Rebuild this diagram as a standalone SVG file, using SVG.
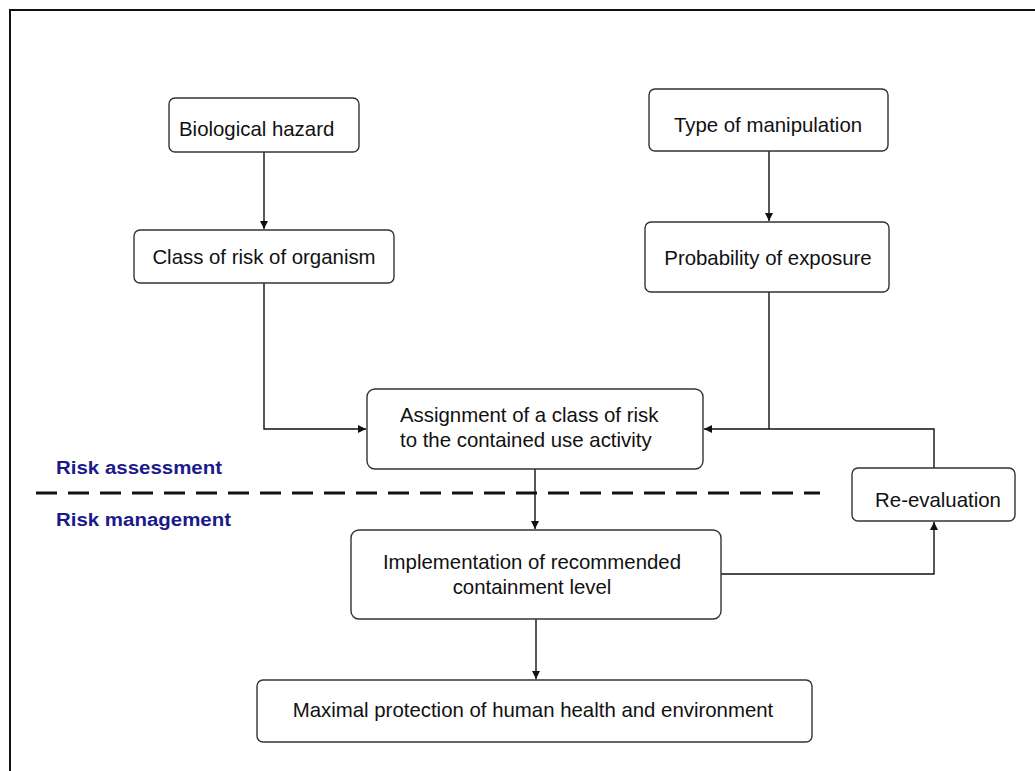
<svg xmlns="http://www.w3.org/2000/svg" width="1035" height="771" viewBox="0 0 1035 771">
<style>
.box{fill:#fff;stroke:#333;stroke-width:1.4}
.t{font-family:"Liberation Sans",Arial,sans-serif;font-size:20.4px;fill:#111}
.lbl{font-family:"Liberation Sans",Arial,sans-serif;font-size:18px;font-weight:bold;fill:#1a1a8c}
.c{fill:none;stroke:#111;stroke-width:1.4}
</style>
<defs>
<marker id="ah" markerWidth="10" markerHeight="10" refX="8" refY="4" orient="auto" markerUnits="userSpaceOnUse">
<path d="M0,0 L8,4 L0,8 Z" fill="#111"/>
</marker>
</defs>
<rect x="0" y="0" width="1035" height="771" fill="#fff"/>
<g id="frame">
<path d="M10,771 V10 H1035" fill="none" stroke="#111" stroke-width="2"/>
</g>
<g id="divider">
<line x1="36" y1="493" x2="820" y2="493" stroke="#111" stroke-width="3" stroke-dasharray="21 11"/>
<text class="lbl" x="56" y="474" textLength="166" lengthAdjust="spacingAndGlyphs">Risk assessment</text>
<text class="lbl" x="56" y="526" textLength="175" lengthAdjust="spacingAndGlyphs">Risk management</text>
</g>
<g id="connectors">
<line class="c" x1="264" y1="152" x2="264" y2="229" marker-end="url(#ah)"/>
<line class="c" x1="769" y1="151" x2="769" y2="221" marker-end="url(#ah)"/>
<polyline class="c" points="264,283 264,429 366,429" marker-end="url(#ah)"/>
<line class="c" x1="769" y1="292" x2="769" y2="429"/>
<polyline class="c" points="934,468 934,429 704,429" marker-end="url(#ah)"/>
<line class="c" x1="535" y1="469" x2="535" y2="529" marker-end="url(#ah)"/>
<polyline class="c" points="721,574 934,574 934,522" marker-end="url(#ah)"/>
<line class="c" x1="536" y1="619" x2="536" y2="679" marker-end="url(#ah)"/>
</g>
<g id="n-bio">
<rect class="box" x="169" y="98" width="190" height="54" rx="6"/>
<text class="t" x="179" y="136">Biological hazard</text>
</g>
<g id="n-class">
<rect class="box" x="134" y="230" width="260" height="53" rx="6"/>
<text class="t" x="264" y="264" text-anchor="middle">Class of risk of organism</text>
</g>
<g id="n-type">
<rect class="box" x="649" y="89" width="239" height="62" rx="6"/>
<text class="t" x="768" y="132" text-anchor="middle">Type of manipulation</text>
</g>
<g id="n-prob">
<rect class="box" x="645" y="222" width="244" height="70" rx="6"/>
<text class="t" x="768" y="265" text-anchor="middle">Probability of exposure</text>
</g>
<g id="n-assign">
<rect class="box" x="367" y="389" width="336" height="80" rx="8"/>
<text class="t" x="400" y="422">Assignment of a class of risk</text>
<text class="t" x="400" y="447">to the contained use activity</text>
</g>
<g id="n-reeval">
<rect class="box" x="852" y="468" width="163" height="53" rx="6"/>
<text class="t" x="938" y="507" text-anchor="middle">Re-evaluation</text>
</g>
<g id="n-impl">
<rect class="box" x="351" y="530" width="370" height="89" rx="8"/>
<text class="t" x="532" y="569" text-anchor="middle">Implementation of recommended</text>
<text class="t" x="532" y="594" text-anchor="middle">containment level</text>
</g>
<g id="n-max">
<rect class="box" x="257" y="680" width="555" height="62" rx="6"/>
<text class="t" x="533" y="717" text-anchor="middle">Maximal protection of human health and environment</text>
</g>
</svg>
